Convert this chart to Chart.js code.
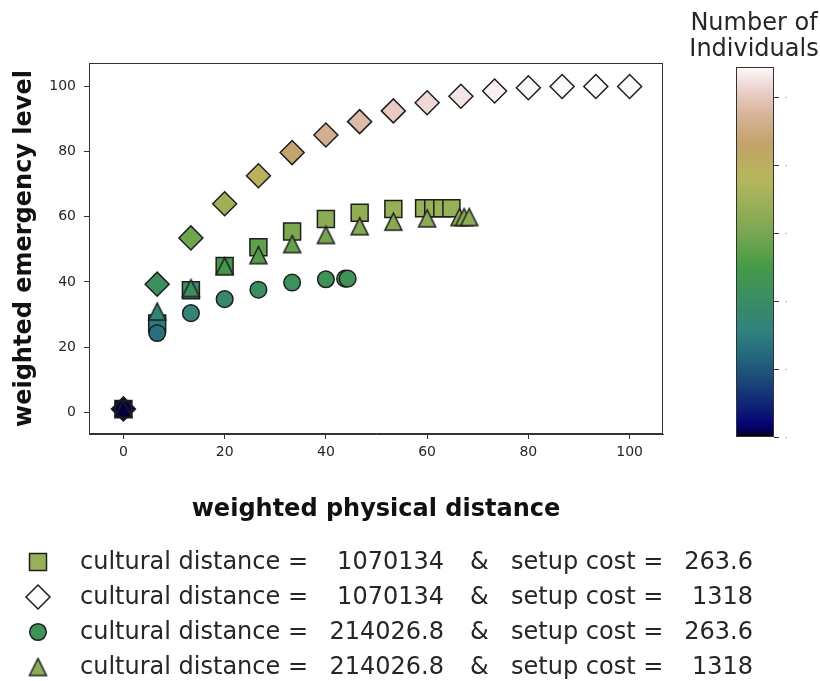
<!DOCTYPE html>
<html>
<head>
<meta charset="utf-8">
<script src="https://cdn.jsdelivr.net/npm/chart.js@4.4.1/dist/chart.umd.min.js"></script>
<style>
  html, body { margin: 0; padding: 0; background: #fff; }
  #wrap { width: 820px; height: 681px; }
</style>
</head>
<body>
<div id="wrap"><canvas id="chart" width="820" height="681"></canvas></div>
<script>
// axis ticks
const xTicks = [0, 20, 40, 60, 80, 100];
const yTicks = [0, 20, 40, 60, 80, 100];
const colorbarTicks = [0, 18.4, 36.8, 55.1, 73.5, 91.9];

// legend texts
const culturalDistance = ["1070134", "1070134", "214026.8", "214026.8"];
const setupCost = ["263.6", "1318", "263.6", "1318"];

// cultural distance 1070134 & setup cost 263.6 (squares)
const squareX = [0, 6.67, 13.33, 20, 26.67, 33.33, 40, 46.67, 53.33, 59.4, 61.2, 63.0, 64.8];
const squareY = [1, 27.2, 37.4, 44.9, 50.6, 55.5, 59.3, 61.2, 62.4, 62.6, 62.6, 62.6, 62.6];

// cultural distance 1070134 & setup cost 1318 (diamonds)
const diamondX = [0, 6.67, 13.33, 20, 26.67, 33.33, 40, 46.67, 53.33, 60, 66.67, 73.33, 80, 86.67, 93.33, 100];
const diamondY = [1, 39.3, 53.5, 64, 72.6, 79.7, 85.1, 89.2, 92.5, 95, 97, 98.6, 99.6, 100, 100, 100];

// cultural distance 214026.8 & setup cost 263.6 (circles)
const circleX = [0, 6.67, 13.33, 20, 26.67, 33.33, 40, 43.8, 44.3];
const circleY = [1, 24.3, 30.4, 34.7, 37.6, 39.8, 40.8, 41, 41];

// cultural distance 214026.8 & setup cost 1318 (triangles)
const triangleX = [0, 6.67, 13.33, 20, 26.67, 33.33, 40, 46.67, 53.33, 60, 66.4, 67.3, 68.3];
const triangleY = [1, 30.9, 38.1, 44.8, 48.2, 51.6, 54.4, 57.1, 58.5, 59.5, 59.9, 59.9, 59.9];

const colorMin = 0;
const colorMax = 100;

// matplotlib gist_earth
const gistEarth = {
    red: [[0, 0], [0.2824, 0.1882], [0.4588, 0.2714], [0.549, 0.4719], [0.698, 0.7176], [0.7882, 0.7553], [1, 0.9922]],
    green: [[0, 0], [0.0275, 0], [0.1098, 0.1893], [0.1647, 0.3035], [0.2078, 0.3841], [0.2824, 0.502],
        [0.5216, 0.6397], [0.698, 0.7171], [0.7882, 0.6392], [0.7922, 0.6413], [0.8, 0.6447], [0.8078, 0.6481],
        [0.8157, 0.6549], [0.8667, 0.6991], [0.8745, 0.7103], [0.8824, 0.7216], [0.8902, 0.7323], [0.898, 0.743],
        [0.9412, 0.8275], [0.9569, 0.8635], [0.9647, 0.8816], [0.9961, 0.9733], [1, 0.9843]],
    blue: [[0, 0], [0.0039, 0.1684], [0.0078, 0.2212], [0.0275, 0.4329], [0.0314, 0.4549], [0.2824, 0.5004],
        [0.4667, 0.2748], [0.5451, 0.3205], [0.7843, 0.3961], [0.8941, 0.6651], [1, 0.9843]],
};

function channel(stops, t) {
    for (let i = 1; i < stops.length; i++) {
        if (t <= stops[i][0]) {
            const [x0, y0] = stops[i - 1];
            const [x1, y1] = stops[i];
            return y0 + ((t - x0) / (x1 - x0)) * (y1 - y0);
        }
    }
    return stops[stops.length - 1][1];
}

function cmap(value) {
    const t = Math.min(1, Math.max(0, (value - colorMin) / (colorMax - colorMin)));
    const r = Math.round(channel(gistEarth.red, t) * 255);
    const g = Math.round(channel(gistEarth.green, t) * 255);
    const b = Math.round(channel(gistEarth.blue, t) * 255);
    return `rgb(${r}, ${g}, ${b})`;
}

const edgeColor = "#1e1e1e";
const textColor = "#262626";
const font = "DejaVu Sans";

// matplotlib style '^' marker (centred on its box)
const triangleCache = {};
function triangleMarker(fill) {
    if (triangleCache[fill]) return triangleCache[fill];
    const c = document.createElement("canvas");
    c.width = 21;
    c.height = 21;
    const g = c.getContext("2d");
    g.beginPath();
    g.moveTo(10.5, 2);
    g.lineTo(2, 19);
    g.lineTo(19, 19);
    g.closePath();
    g.fillStyle = fill;
    g.fill();
    g.lineWidth = 1.5;
    g.strokeStyle = edgeColor;
    g.stroke();
    triangleCache[fill] = c;
    return c;
}

function toPoints(xs, ys) {
    return xs.map((x, i) => ({ x, y: ys[i] }));
}

const datasets = [
    {
        label: "squares",
        data: toPoints(squareX, squareY),
        pointStyle: "rect",
        pointRadius: 12,
        backgroundColor: squareY.map(cmap),
        order: 3,
    },
    {
        label: "diamonds",
        data: toPoints(diamondX, diamondY),
        pointStyle: "rectRot",
        pointRadius: 12,
        backgroundColor: diamondY.map(cmap),
        order: 2,
    },
    {
        label: "circles",
        data: toPoints(circleX, circleY),
        pointStyle: "circle",
        pointRadius: 8.3,
        backgroundColor: circleY.map(cmap),
        order: 1,
    },
    {
        label: "triangles",
        data: toPoints(triangleX, triangleY),
        pointStyle: triangleY.map((v) => triangleMarker(cmap(v))),
        pointRadius: 10,
        backgroundColor: triangleY.map(cmap),
        order: 0,
    },
].map((ds) => ({ ...ds, borderColor: edgeColor, borderWidth: 1.5, pointHoverRadius: ds.pointRadius }));

function drawLegendMarker(ctx, shape, x, y, fill) {
    ctx.save();
    ctx.fillStyle = fill;
    ctx.strokeStyle = edgeColor;
    ctx.lineWidth = 1.5;
    ctx.beginPath();
    if (shape === "square") {
        ctx.rect(x - 8.5, y - 8.5, 17, 17);
    } else if (shape === "diamond") {
        ctx.moveTo(x - 12, y);
        ctx.lineTo(x, y - 12);
        ctx.lineTo(x + 12, y);
        ctx.lineTo(x, y + 12);
        ctx.closePath();
    } else if (shape === "circle") {
        ctx.arc(x, y, 8.3, 0, Math.PI * 2);
    } else {
        const img = triangleMarker(fill);
        ctx.drawImage(img, x - img.width / 2, y - img.height / 2);
        ctx.restore();
        return;
    }
    ctx.fill();
    ctx.stroke();
    ctx.restore();
}

const decorations = {
    id: "decorations",
    beforeDatasetsDraw(chart) {
        const { ctx, chartArea } = chart;
        ctx.save();
        ctx.strokeStyle = "#333";
        ctx.lineWidth = 1;
        ctx.strokeRect(chartArea.left + 0.5, chartArea.top + 0.5, chartArea.width - 1, chartArea.height - 1);
        ctx.restore();
    },
    afterDraw(chart) {
        const { ctx, chartArea } = chart;
        ctx.save();
        ctx.fillStyle = "#111";

        // axis titles
        ctx.font = `bold 24px "${font}"`;
        ctx.textAlign = "center";
        ctx.textBaseline = "alphabetic";
        ctx.fillText("weighted physical distance", (chartArea.left + chartArea.right) / 2, 516);
        ctx.save();
        ctx.translate(31, (chartArea.top + chartArea.bottom) / 2);
        ctx.rotate(-Math.PI / 2);
        ctx.fillText("weighted emergency level", 0, 0);
        ctx.restore();

        // colorbar
        const cb = { left: 736, right: 774, top: 67, bottom: 437 };
        const grad = ctx.createLinearGradient(0, cb.bottom, 0, cb.top);
        for (let i = 0; i <= 64; i++) {
            const f = i / 64;
            grad.addColorStop(f, cmap(colorMin + f * (colorMax - colorMin)));
        }
        ctx.fillStyle = grad;
        ctx.fillRect(cb.left, cb.top, cb.right - cb.left, cb.bottom - cb.top);
        ctx.strokeStyle = "#333";
        ctx.lineWidth = 1;
        ctx.strokeRect(cb.left + 0.5, cb.top + 0.5, cb.right - cb.left - 1, cb.bottom - cb.top - 1);
        colorbarTicks.forEach((v) => {
            const y = Math.round(cb.bottom - ((v - colorMin) / (colorMax - colorMin)) * (cb.bottom - cb.top)) + 0.5;
            ctx.strokeStyle = "#333";
            ctx.beginPath();
            ctx.moveTo(cb.right, y);
            ctx.lineTo(cb.right + 5, y);
            ctx.stroke();
            ctx.strokeStyle = "#bbb";
            ctx.beginPath();
            ctx.moveTo(cb.right + 11, y);
            ctx.lineTo(cb.right + 13, y);
            ctx.stroke();
        });

        ctx.fillStyle = textColor;
        ctx.font = `24px "${font}"`;
        ctx.textAlign = "center";
        ctx.fillText("Number of", 754, 30);
        ctx.fillText("Individuals", 754, 56);

        // legend
        const shapes = ["square", "diamond", "circle", "triangle"];
        const lastColors = [squareY, diamondY, circleY, triangleY].map((ys) => cmap(ys[ys.length - 1]));
        shapes.forEach((shape, i) => {
            const cy = 562 + i * 35;
            drawLegendMarker(ctx, shape, 38, cy, lastColors[i]);
            const base = cy + 7;
            ctx.fillStyle = textColor;
            ctx.font = `24px "${font}"`;
            ctx.textAlign = "left";
            ctx.fillText("cultural distance =", 80, base);
            ctx.textAlign = "right";
            ctx.fillText(culturalDistance[i], 444, base);
            ctx.textAlign = "left";
            ctx.fillText("&", 470, base);
            ctx.fillText("setup cost =", 511, base);
            ctx.textAlign = "right";
            ctx.fillText(setupCost[i], 753, base);
        });
        ctx.restore();
    },
};

const tickFont = { family: font, size: 14 };

new Chart(document.getElementById("chart"), {
    type: "scatter",
    data: { datasets },
    options: {
        responsive: false,
        animation: false,
        devicePixelRatio: 1,
        layout: { padding: { top: 63, right: 157, left: 0, bottom: 0 } },
        plugins: { legend: { display: false }, tooltip: { enabled: false } },
        scales: {
            x: {
                type: "linear",
                min: -6.8,
                max: 106.6,
                afterBuildTicks: (scale) => {
                    scale.ticks = xTicks.map((value) => ({ value }));
                },
                afterFit: (scale) => {
                    scale.height = 247;
                },
                ticks: { font: tickFont, color: textColor, padding: 5, maxRotation: 0 },
                grid: { drawOnChartArea: false, tickLength: 5, color: "#333" },
                border: { color: "#333" },
            },
            y: {
                type: "linear",
                min: -6.7,
                max: 107.2,
                afterBuildTicks: (scale) => {
                    scale.ticks = yTicks.map((value) => ({ value }));
                },
                afterFit: (scale) => {
                    scale.width = 89;
                },
                ticks: { font: tickFont, color: textColor, padding: 8 },
                grid: { drawOnChartArea: false, tickLength: 5, color: "#333" },
                border: { color: "#333" },
            },
        },
    },
    plugins: [decorations],
});
</script>
</body>
</html>
